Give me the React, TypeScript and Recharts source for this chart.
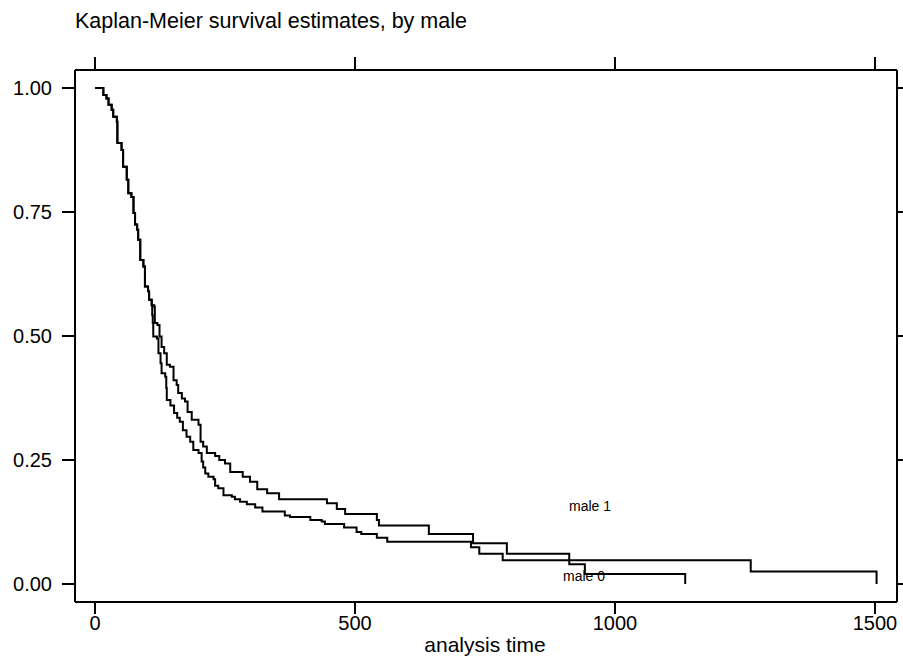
import React from "react";
import { LineChart, Line, XAxis, YAxis } from "recharts";

// Kaplan-Meier step points: time of event and survival after it
const timesMale0 = [
  0, 16, 22, 26, 32, 35, 42, 43, 51, 54, 61, 64, 70, 74, 77, 81, 83, 87, 93, 96, 102, 104, 109,
  114, 115, 120, 124, 128, 133, 138, 144, 151, 157, 160, 167, 173, 178, 186, 199, 203, 208,
  215, 231, 239, 250, 260, 284, 298, 312, 331, 354, 446, 465, 481, 542, 546, 642, 727, 792,
  912, 942, 1135,
];
const survMale0 = [
  1.0, 0.986, 0.979, 0.966, 0.956, 0.942, 0.932, 0.889, 0.875, 0.841, 0.815, 0.788, 0.78,
  0.748, 0.725, 0.714, 0.694, 0.653, 0.64, 0.6, 0.59, 0.573, 0.562,
  0.559, 0.526, 0.522, 0.499, 0.478, 0.465, 0.442, 0.438, 0.411, 0.401, 0.385, 0.374, 0.368,
  0.347, 0.331, 0.321, 0.287, 0.277, 0.264, 0.258, 0.25, 0.243, 0.226, 0.216, 0.206, 0.191,
  0.183, 0.171, 0.163, 0.151, 0.141, 0.129, 0.118, 0.101, 0.082, 0.061, 0.04, 0.02, 0,
];

const timesMale1 = [
  0, 16, 22, 26, 32, 35, 42, 43, 51, 54, 61, 64, 70, 74, 77, 81, 83, 87, 93, 96, 102, 104, 109,
  110, 111, 112, 119, 122, 126, 128, 135, 137, 138, 145, 152, 158, 163, 169, 176, 183, 189,
  199, 205, 208, 212, 218, 228, 231, 237, 247, 263, 269, 279, 292, 308, 322, 365, 375, 414,
  436, 442, 479, 503, 512, 542, 562, 723, 739, 784, 1261, 1503,
];
const survMale1 = [
  1.0, 0.986, 0.979, 0.966, 0.956, 0.942, 0.932, 0.889, 0.875, 0.841, 0.815, 0.788, 0.78,
  0.748, 0.725, 0.714, 0.694, 0.653, 0.64, 0.6, 0.59, 0.573, 0.562,
  0.542, 0.526, 0.499, 0.495, 0.465, 0.445, 0.425, 0.418, 0.395, 0.371, 0.36, 0.345, 0.335,
  0.327, 0.31, 0.297, 0.287, 0.27, 0.264, 0.247, 0.235, 0.223, 0.216, 0.211, 0.198, 0.193,
  0.179, 0.176, 0.171, 0.166, 0.161, 0.154, 0.146, 0.138, 0.135, 0.129, 0.126, 0.121, 0.114,
  0.105, 0.101, 0.093, 0.085, 0.074, 0.061, 0.048, 0.025, 0,
];

const xTicks = [0, 500, 1000, 1500];
const yTicks = [0, 0.25, 0.5, 0.75, 1];

const male0 = timesMale0.map((t, i) => ({ t, s: survMale0[i] }));
const male1 = timesMale1.map((t, i) => ({ t, s: survMale1[i] }));

const FONT = "'Liberation Sans', Arial, Helvetica, sans-serif";
const xDomain = [-38.5, 1542.3];
const yDomain = [-0.0363, 1.0363];
const axisStyle = { stroke: "#000", strokeWidth: 2 };
const tickFont = { fill: "#000", fontSize: 20, fontFamily: FONT };

export default function App() {
  return (
    <div style={{ position: "absolute", left: 0, top: 0, width: 903, height: 665, background: "#fff" }}>
      <LineChart width={903} height={665} margin={{ top: 0, right: 0, bottom: 0, left: 0 }}>
        <XAxis
          xAxisId="bottom"
          dataKey="t"
          type="number"
          domain={xDomain}
          allowDataOverflow
          ticks={xTicks}
          height={63}
          tickSize={12}
          tickMargin={2}
          axisLine={axisStyle}
          tickLine={axisStyle}
          tick={tickFont}
        />
        <XAxis
          xAxisId="top"
          orientation="top"
          dataKey="t"
          type="number"
          domain={xDomain}
          allowDataOverflow
          ticks={xTicks}
          height={70}
          tickSize={13}
          tickFormatter={() => ""}
          axisLine={axisStyle}
          tickLine={axisStyle}
        />
        <YAxis
          yAxisId="left"
          type="number"
          domain={yDomain}
          allowDataOverflow
          ticks={yTicks}
          width={75}
          tickSize={13}
          tickMargin={10}
          tickFormatter={(v: number) => v.toFixed(2)}
          axisLine={axisStyle}
          tickLine={axisStyle}
          tick={tickFont}
        />
        <YAxis
          yAxisId="right"
          orientation="right"
          type="number"
          domain={yDomain}
          allowDataOverflow
          ticks={yTicks}
          width={6}
          tickSize={6}
          tickFormatter={() => ""}
          axisLine={axisStyle}
          tickLine={axisStyle}
        />
        <Line
          xAxisId="bottom"
          yAxisId="left"
          data={male0}
          dataKey="s"
          type="stepAfter"
          stroke="#000"
          strokeWidth={2}
          dot={false}
          isAnimationActive={false}
        />
        <Line
          xAxisId="bottom"
          yAxisId="left"
          data={male1}
          dataKey="s"
          type="stepAfter"
          stroke="#000"
          strokeWidth={2}
          dot={false}
          isAnimationActive={false}
        />
      </LineChart>
      <svg
        width={903}
        height={665}
        style={{ position: "absolute", left: 0, top: 0, pointerEvents: "none" }}
        fontFamily={FONT}
      >
        <text x={75} y={28} fontSize={21.5} fill="#000">
          Kaplan-Meier survival estimates, by male
        </text>
        <text x={485} y={652} fontSize={21} fill="#000" textAnchor="middle">
          analysis time
        </text>
        <text x={569} y={511} fontSize={14} fill="#000">
          male 1
        </text>
        <text x={563} y={581} fontSize={14} fill="#000">
          male 0
        </text>
      </svg>
    </div>
  );
}
